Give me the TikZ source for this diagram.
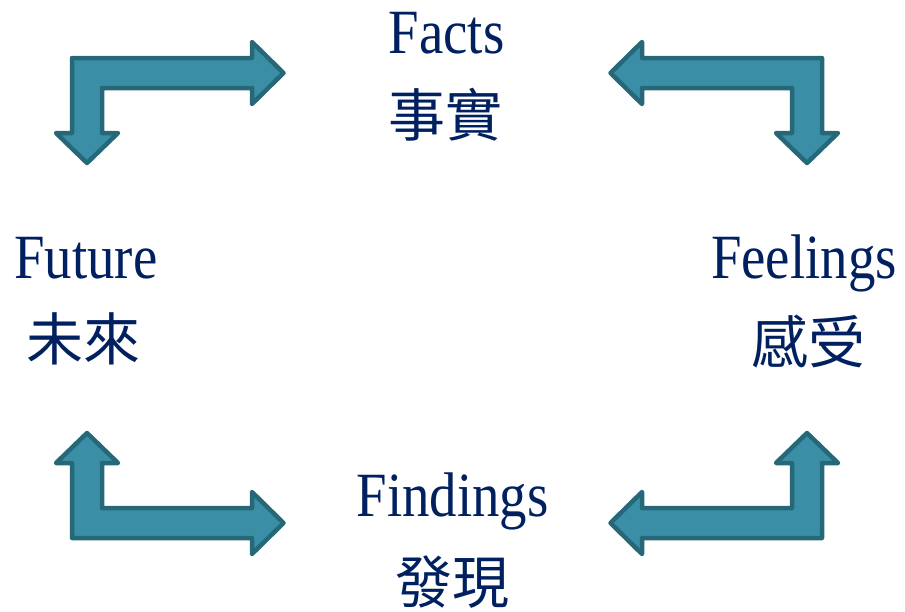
\documentclass[tikz,border=0pt]{standalone}
\usepackage{fontspec}
\setmainfont[FakeStretch=0.87]{Liberation Serif}
\newfontfamily\cjk{Noto Sans CJK TC}
\definecolor{txtblue}{RGB}{0,32,96}
\definecolor{arrowfill}{RGB}{58,143,166}
\definecolor{arrowline}{RGB}{38,104,120}
\tikzset{
  arrowshape/.style={fill=arrowfill, draw=arrowline, line width=4.5pt, line join=round},
  entext/.style={text=txtblue, inner sep=0pt, anchor=base, font=\fontsize{63}{70}\selectfont},
  zhtext/.style={text=txtblue, inner sep=0pt, anchor=center, font=\cjk\fontsize{57}{64}\selectfont},
  bentarrow/.pic={
    \path[arrowshape] (-15,-15) -- (165,-15) -- (165,-31) -- (196.5,0) -- (165,31) -- (165,15)
      -- (15,15) -- (15,60) -- (31,60) -- (0,90) -- (-31,60) -- (-15,60) -- cycle;
  }
}
\begin{document}
\begin{tikzpicture}[x=1pt,y=-1pt]
\useasboundingbox (0,0) rectangle (905,611);
% arrows
\pic (tl) at (87,73) {bentarrow};
\pic[xscale=-1] (tr) at (807,73) {bentarrow};
\pic[yscale=-1] (bl) at (87,523) {bentarrow};
\pic[xscale=-1,yscale=-1] (br) at (807,523) {bentarrow};
% labels
\node[entext] (factsen) at (446.5,53.3) {Facts};
\node[zhtext] (factszh) at (445,115) {事實};
\node[entext] (futureen) at (86,278.3) {Future};
\node[zhtext] (futurezh) at (84,339) {未來};
\node[entext] (feelingsen) at (804,278.3) {Feelings};
\node[zhtext] (feelingszh) at (808,342) {感受};
\node[entext] (findingsen) at (452.5,516.7) {Findings};
\node[zhtext] (findingszh) at (452,582) {發現};
\end{tikzpicture}
\end{document}
